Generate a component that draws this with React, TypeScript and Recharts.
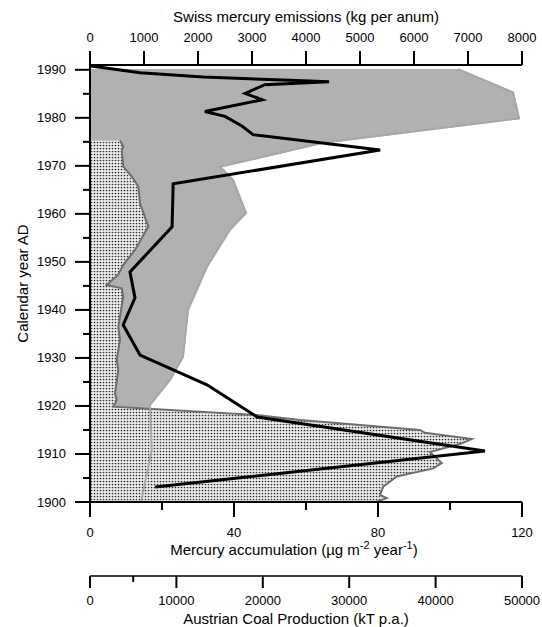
import React from "react";
import { ComposedChart, Area, Line, XAxis, YAxis } from "recharts";

const FONT = "Arial, 'Liberation Sans', Helvetica, sans-serif";

// Mercury accumulation (black line), µg m-2 year-1
const hgYears = [1990.8, 1989.4, 1988.5, 1987.8, 1987.5, 1986.9, 1985.1, 1983.75, 1981.3, 1980.3, 1978.3, 1976.5, 1973.3, 1966.25, 1957.3, 1947.9, 1942.5, 1936.9, 1930.6, 1924.4, 1917.7, 1910.6, 1903.1];
const hgValues = [0.3, 13.9, 31.4, 55.6, 66.4, 48.6, 43.1, 47.8, 31.9, 37.5, 42.2, 45.3, 80.6, 23.1, 22.8, 11.1, 12.5, 9.2, 13.9, 32.5, 46.4, 109.7, 18.1];

// Swiss mercury emissions (grey area), kg per annum
const emisYears = [1990.15, 1985.3, 1979.9, 1974.8, 1969.8, 1967.1, 1960.2, 1956.7, 1949, 1940, 1930.2, 1925.4, 1920.2, 1910.8, 1900];
const emisValues = [6815, 7834, 7945, 4315, 2407, 2648, 2889, 2593, 2167, 1815, 1722, 1481, 1111, 1143, 944];

// Austrian coal production (dotted area), kT p.a.
const coalYears = [1975.27, 1974.0, 1973.3, 1969.85, 1967.8, 1965.7, 1962.2, 1957.35, 1952.5, 1949.4, 1947.3, 1945.2, 1944.5, 1942.8, 1936.5, 1933.75, 1929.6, 1927.5, 1922.6, 1921.25, 1919.85, 1918.1, 1917.1, 1915, 1914.4, 1913.1, 1912.2, 1910.4, 1908.1, 1907.0, 1905.3, 1903.2, 1901.5, 1900.8, 1900.05];
const coalValues = [3472, 3854, 3669, 3854, 4826, 5590, 5787, 6748, 5208, 3854, 3241, 1933, 3669, 3854, 3275, 3472, 3090, 3275, 2894, 3090, 2697, 19290, 24305, 38194, 38773, 44178, 43021, 39352, 40706, 39734, 35498, 33947, 33565, 34340, 33183];

const yearTicks = [1900, 1905, 1910, 1915, 1920, 1925, 1930, 1935, 1940, 1945, 1950, 1955, 1960, 1965, 1970, 1975, 1980, 1985, 1990];
const hgTicks = [0, 20, 40, 60, 80, 100, 120];
const emisTicks = [0, 500, 1000, 1500, 2000, 2500, 3000, 3500, 4000, 4500, 5000, 5500, 6000, 6500, 7000, 7500, 8000];
const coalTicks = [0, 5000, 10000, 15000, 20000, 25000, 30000, 35000, 40000, 45000, 50000];

const toRows = (years: number[], values: number[]) => years.map((year, i) => ({ year, value: values[i] }));
const hgData = toRows(hgYears, hgValues);
const emisData = toRows(emisYears, emisValues);
const coalData = toRows(coalYears, coalValues);

const BottomTick = (props: any) => {
  const { x, y, payload, every, major: majorLen, minor: minorLen, labelDy } = props;
  const isMajor = payload.value % every === 0;
  return (
    <g>
      <line x1={x} y1={y} x2={x} y2={y + (isMajor ? majorLen : minorLen)} stroke="#000" strokeWidth={2} />
      {isMajor && (
        <text x={x} y={y + labelDy} textAnchor="middle" fontSize={13} fontFamily={FONT} fill="#000">
          {payload.value}
        </text>
      )}
    </g>
  );
};

const TopTick = (props: any) => {
  const { x, y, payload } = props;
  const isMajor = payload.value % 1000 === 0;
  return (
    <g>
      <line x1={x} y1={y} x2={x} y2={y - (isMajor ? 14 : 7)} stroke="#000" strokeWidth={2} />
      {isMajor && (
        <text x={x} y={y - 23} textAnchor="middle" fontSize={13} fontFamily={FONT} fill="#000">
          {payload.value}
        </text>
      )}
    </g>
  );
};

const LeftTick = (props: any) => {
  const { x, y, payload } = props;
  const isMajor = payload.value % 10 === 0;
  return (
    <g>
      <line x1={x} y1={y} x2={x - (isMajor ? 15 : 7)} y2={y} stroke="#000" strokeWidth={2} />
      {isMajor && (
        <text x={x - 24} y={y + 4.5} textAnchor="end" fontSize={13} fontFamily={FONT} fill="#000">
          {payload.value}
        </text>
      )}
    </g>
  );
};

export default function App() {
  return (
    <div style={{ position: "absolute", left: 0, top: 0, background: "#fff" }}>
      <ComposedChart layout="vertical" width={542} height={627} margin={{ top: 0, right: 20, bottom: 0, left: 0 }}>
        <defs>
          <pattern id="dots" width="3" height="3" patternUnits="userSpaceOnUse">
            <rect width="3" height="3" fill="#eeeeee" />
            <circle cx="1.5" cy="1.5" r="0.85" fill="#2a2a2a" />
          </pattern>
        </defs>
        <XAxis
          xAxisId="c_emis"
          orientation="top"
          type="number"
          domain={[0, 8000]}
          ticks={emisTicks}
          allowDataOverflow
          height={65}
          tickSize={0}
          tickMargin={0}
          tickLine={false}
          axisLine={{ stroke: "#000", strokeWidth: 2 }}
          tick={<TopTick />}
          label={{
            content: (p: any) => (
              <text x={p.viewBox.x + p.viewBox.width / 2} y={22} textAnchor="middle" fontSize={15} fontFamily={FONT} fill="#000">
                Swiss mercury emissions (kg per anum)
              </text>
            ),
          }}
        />
        <XAxis
          xAxisId="b_coal"
          orientation="bottom"
          type="number"
          domain={[0, 50000]}
          ticks={coalTicks}
          allowDataOverflow
          height={51}
          tickSize={0}
          tickMargin={0}
          tickLine={false}
          axisLine={{ stroke: "#000", strokeWidth: 1.5 }}
          tick={<BottomTick every={10000} major={12} minor={6} labelDy={28.5} />}
          label={{
            content: (p: any) => (
              <text x={p.viewBox.x + p.viewBox.width / 2 - 10} y={p.viewBox.y + 47.5} textAnchor="middle" fontSize={15} fontFamily={FONT} fill="#000">
                Austrian Coal Production (kT p.a.)
              </text>
            ),
          }}
        />
        <XAxis
          xAxisId="a_hg"
          orientation="bottom"
          type="number"
          domain={[0, 120]}
          ticks={hgTicks}
          allowDataOverflow
          height={74}
          tickSize={0}
          tickMargin={0}
          tickLine={false}
          axisLine={{ stroke: "#000", strokeWidth: 2 }}
          tick={<BottomTick every={40} major={15} minor={8} labelDy={34.5} />}
          label={{
            content: (p: any) => (
              <text x={p.viewBox.x + p.viewBox.width / 2 - 12} y={p.viewBox.y + 53} textAnchor="middle" fontSize={15} fontFamily={FONT} fill="#000">
                Mercury accumulation (µg m
                <tspan dy={-6} fontSize={11}>-2</tspan>
                <tspan dy={6}> year</tspan>
                <tspan dy={-6} fontSize={11}>-1</tspan>
                <tspan dy={6}>)</tspan>
              </text>
            ),
          }}
        />
        <YAxis
          yAxisId="yr"
          type="number"
          dataKey="year"
          domain={[1900, 1991]}
          ticks={yearTicks}
          reversed
          allowDataOverflow
          width={90}
          tickSize={0}
          tickMargin={0}
          tickLine={false}
          axisLine={{ stroke: "#000", strokeWidth: 2 }}
          tick={<LeftTick />}
          label={{
            content: (p: any) => {
              const cy = p.viewBox.y + p.viewBox.height / 2;
              return (
                <text x={22} y={cy} transform={`rotate(-90 22 ${cy})`} textAnchor="middle" dominantBaseline="central" fontSize={15} fontFamily={FONT} fill="#000">
                  Calendar year AD
                </text>
              );
            },
          }}
        />
        <Area
          xAxisId="c_emis"
          yAxisId="yr"
          data={emisData}
          dataKey="value"
          type="linear"
          fill="#b1b1b1"
          fillOpacity={1}
          stroke="#999"
          strokeWidth={1.5}
          isAnimationActive={false}
        />
        <Area
          xAxisId="b_coal"
          yAxisId="yr"
          data={coalData}
          dataKey="value"
          type="linear"
          fill="url(#dots)"
          fillOpacity={1}
          stroke="#6e6e6e"
          strokeWidth={2}
          isAnimationActive={false}
        />
        <Line
          xAxisId="c_emis"
          yAxisId="yr"
          data={emisData}
          dataKey="value"
          type="linear"
          stroke="#a8a8a8"
          strokeWidth={2}
          dot={false}
          activeDot={false}
          isAnimationActive={false}
        />
        <Line
          xAxisId="a_hg"
          yAxisId="yr"
          data={hgData}
          dataKey="value"
          type="linear"
          stroke="#000"
          strokeWidth={3}
          strokeLinejoin="miter"
          dot={false}
          activeDot={false}
          isAnimationActive={false}
        />
      </ComposedChart>
    </div>
  );
}
